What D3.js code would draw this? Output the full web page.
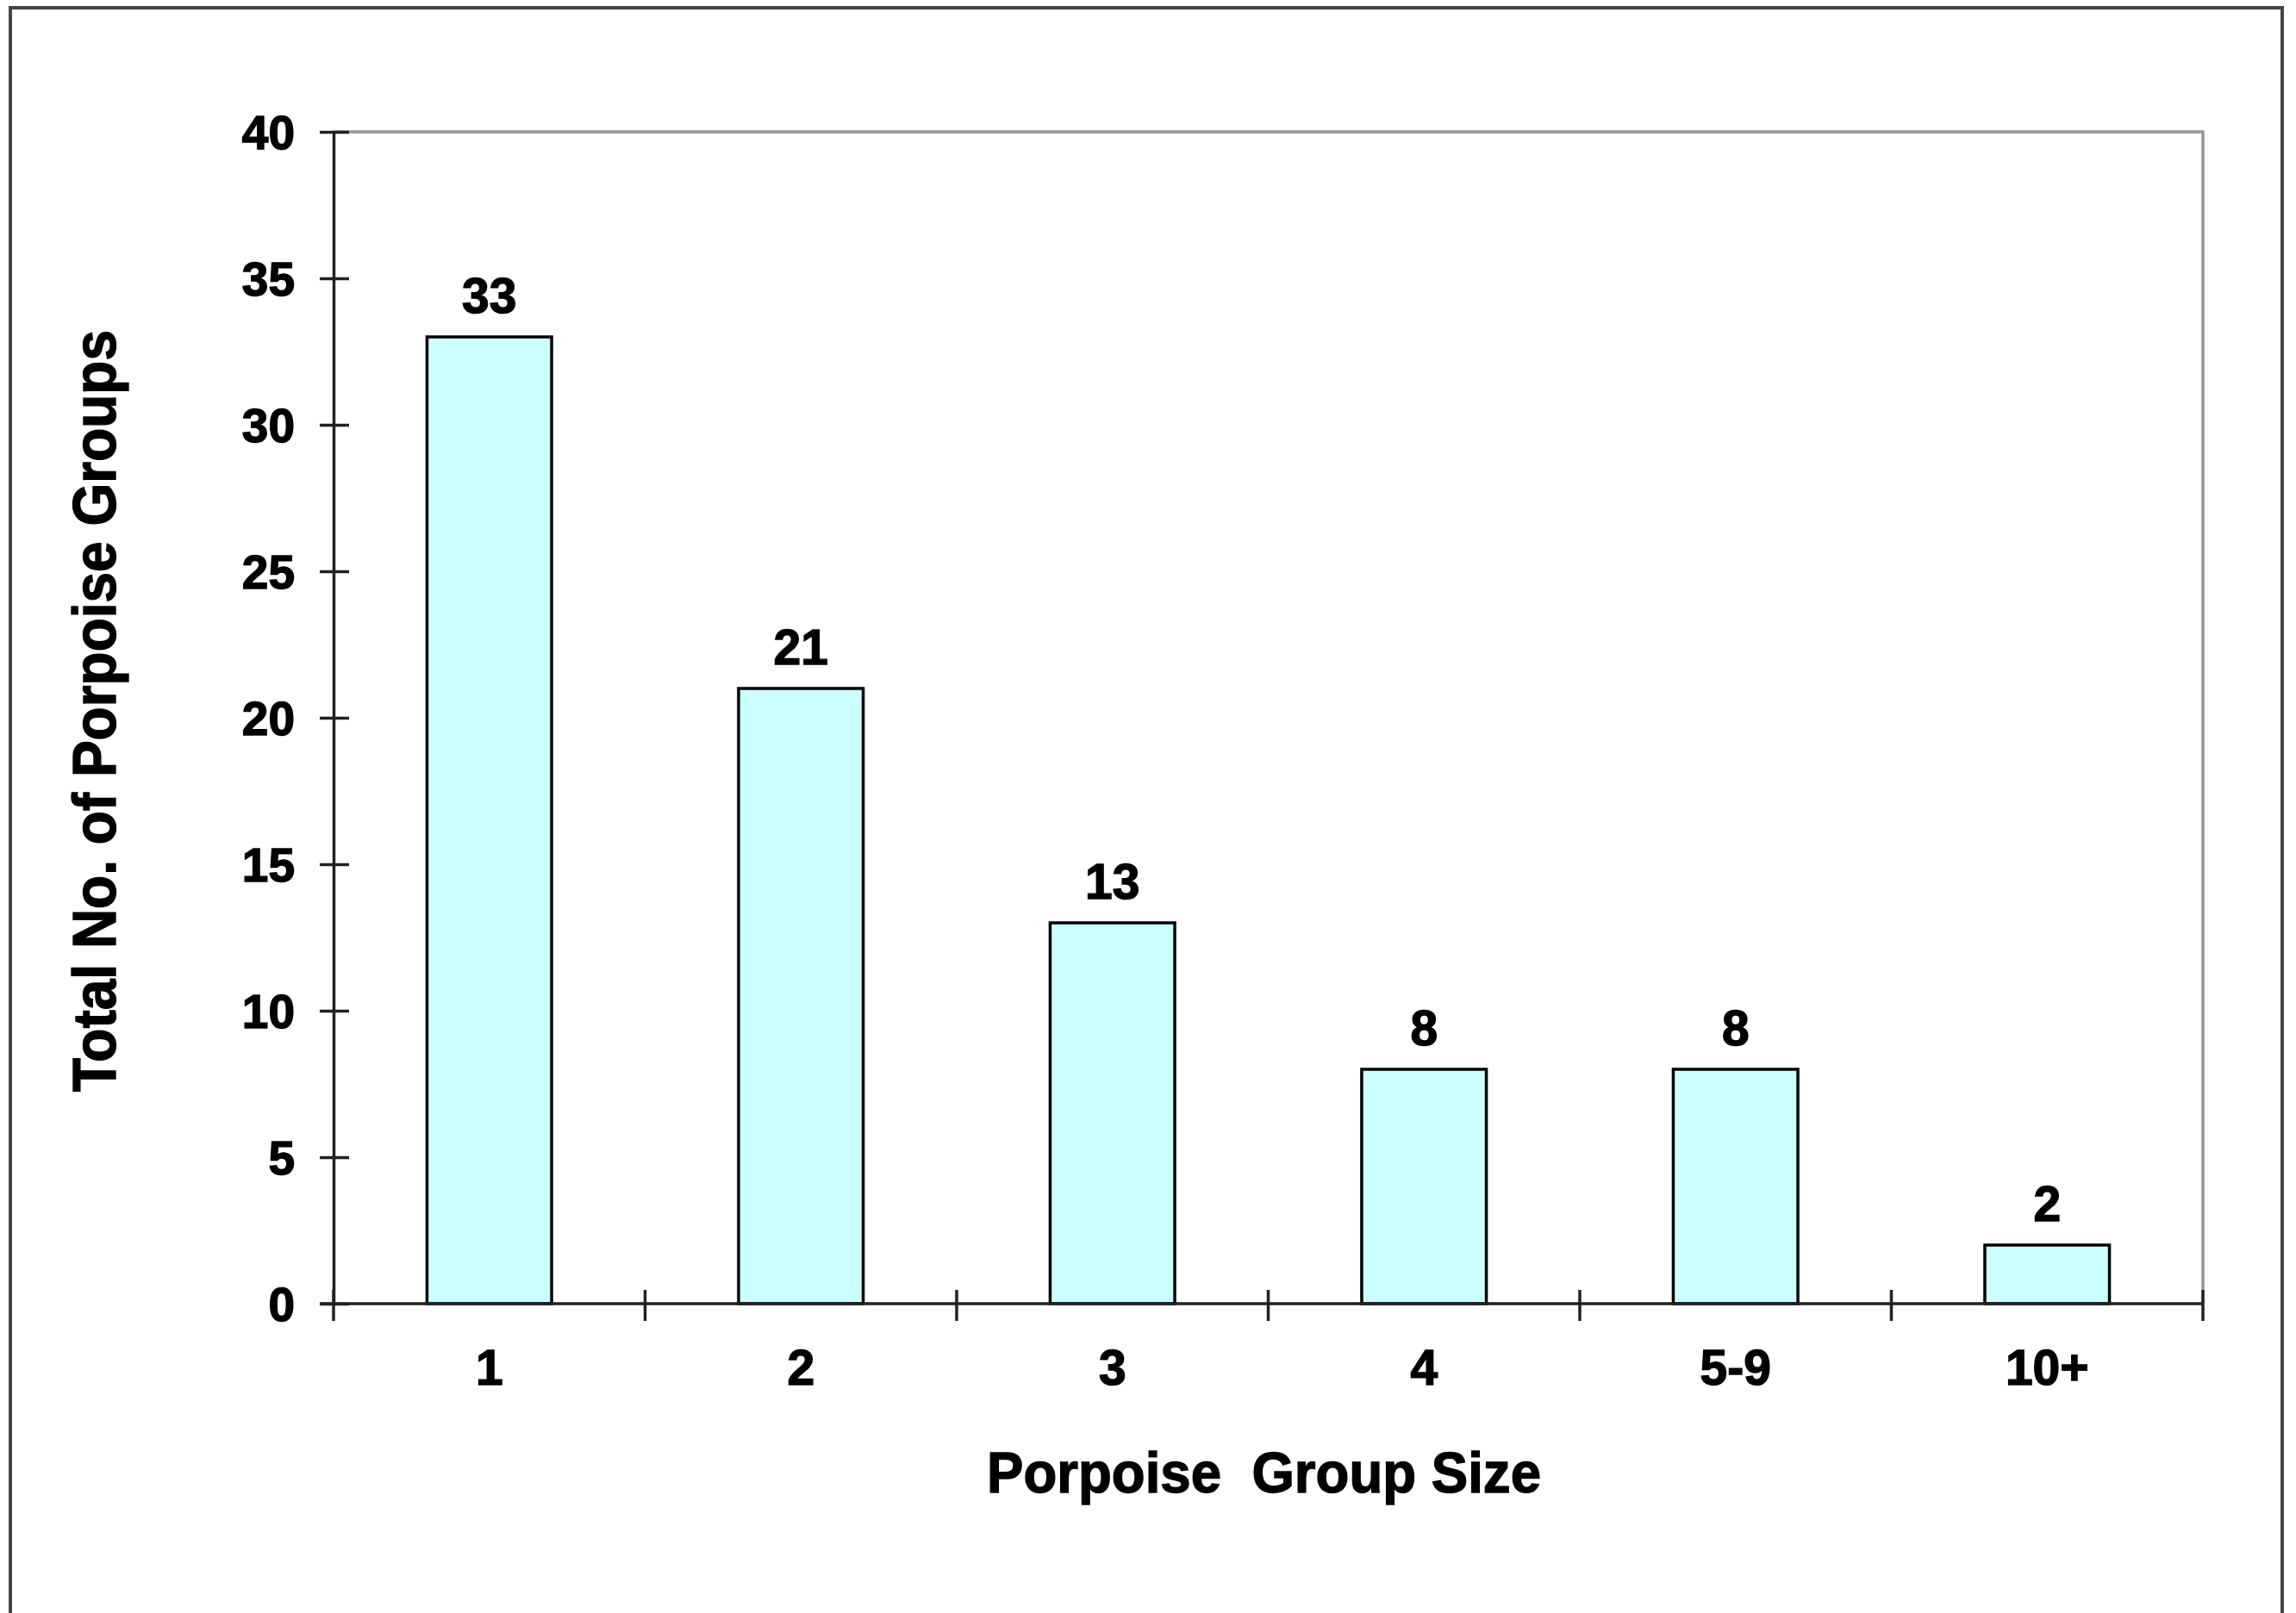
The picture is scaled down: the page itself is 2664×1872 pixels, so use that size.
<!DOCTYPE html>
<html>
<head>
<meta charset="utf-8">
<script src="https://cdn.jsdelivr.net/npm/d3@7"></script>
<style>
  html, body { margin: 0; padding: 0; background: #fff; }
  svg { display: block; }
  text { font-family: "Liberation Sans", Arial, sans-serif; font-weight: bold; fill: #000; stroke: #000; stroke-width: 1.4px; }
</style>
</head>
<body>
<svg id="chart" width="2664" height="1872"></svg>
<script>
// Group-size categories and counts of porpoise groups
const categories = ["1", "2", "3", "4", "5-9", "10+"];
const counts = [33, 21, 13, 8, 8, 2];
const yTicks = [0, 5, 10, 15, 20, 25, 30, 35, 40];
const xTitle = "Porpoise  Group Size";
const yTitle = "Total No. of Porpoise Groups";

const W = 2664, H = 1872;
const plot = { left: 387, right: 2556, top: 153, bottom: 1513 };

const svg = d3.select("#chart");

// outer chart frame
svg.append("rect")
  .attr("x", 12).attr("y", 9)
  .attr("width", 2648 - 12).attr("height", H + 20)
  .attr("fill", "#fff").attr("stroke", "#444").attr("stroke-width", 4);

const x = d3.scaleBand()
  .domain(categories)
  .range([plot.left, plot.right])
  .paddingInner(0.6)
  .paddingOuter(0.3);

const xCat = d3.scaleBand()
  .domain(categories)
  .range([plot.left, plot.right])
  .padding(0);

const y = d3.scaleLinear().domain([0, 40]).range([plot.bottom, plot.top]);

// plot area border (top and right)
svg.append("path")
  .attr("d", `M${plot.left},${plot.top}H${plot.right}V${plot.bottom}`)
  .attr("fill", "none").attr("stroke", "#959595").attr("stroke-width", 3.5);

// bars
svg.append("g").selectAll("rect")
  .data(categories)
  .join("rect")
  .attr("x", d => x(d))
  .attr("y", (d, i) => y(counts[i]))
  .attr("width", x.bandwidth())
  .attr("height", (d, i) => y(0) - y(counts[i]))
  .attr("fill", "#CCFFFF")
  .attr("stroke", "#000")
  .attr("stroke-width", 3.5);

// value labels
svg.append("g").selectAll("text")
  .data(categories)
  .join("text")
  .attr("x", d => x(d) + x.bandwidth() / 2)
  .attr("y", (d, i) => y(counts[i]) - 28)
  .attr("text-anchor", "middle")
  .attr("font-size", 57)
  .text((d, i) => counts[i]);

// y axis
const yAxis = svg.append("g")
  .attr("transform", `translate(${plot.left},0)`)
  .call(d3.axisLeft(y).tickValues(yTicks).tickSize(16).tickSizeOuter(0).tickPadding(28));
yAxis.select(".domain").attr("stroke", "#222").attr("stroke-width", 3.5);
yAxis.selectAll(".tick line").attr("stroke", "#222").attr("stroke-width", 3.5).attr("x2", 18).attr("x1", -16);
yAxis.selectAll(".tick text")
  .attr("font-size", 55)
  .attr("font-family", "Liberation Sans, Arial, sans-serif")
  .attr("font-weight", "bold")
  .attr("fill", "#000")
  .attr("x", -45)
  .attr("dy", "0.36em");

// x axis with ticks at category boundaries
const xAxisG = svg.append("g").attr("transform", `translate(0,${plot.bottom})`);
xAxisG.append("line")
  .attr("x1", plot.left - 16).attr("x2", plot.right)
  .attr("y1", 0).attr("y2", 0)
  .attr("stroke", "#222").attr("stroke-width", 3.5);
const boundaries = categories.map(d => xCat(d)).concat([xCat(categories[categories.length - 1]) + xCat.bandwidth()]);
xAxisG.selectAll("line.tk")
  .data(boundaries)
  .join("line")
  .attr("class", "tk")
  .attr("x1", d => d).attr("x2", d => d)
  .attr("y1", -16).attr("y2", 20)
  .attr("stroke", "#222").attr("stroke-width", 3.5);
xAxisG.selectAll("text")
  .data(categories)
  .join("text")
  .attr("x", d => xCat(d) + xCat.bandwidth() / 2)
  .attr("y", 94)
  .attr("text-anchor", "middle")
  .attr("font-size", 57)
  .text(d => d);

// axis titles
svg.append("text")
  .attr("x", 1145).attr("y", 1732)
  .attr("font-size", 67)
  .attr("textLength", 643)
  .attr("lengthAdjust", "spacingAndGlyphs")
  .style("white-space", "pre")
  .text(xTitle);

svg.append("text")
  .attr("transform", "translate(134,1267) rotate(-90)")
  .attr("x", 0).attr("y", 0)
  .attr("font-size", 70)
  .attr("textLength", 884)
  .attr("lengthAdjust", "spacingAndGlyphs")
  .text(yTitle);
</script>
</body>
</html>
